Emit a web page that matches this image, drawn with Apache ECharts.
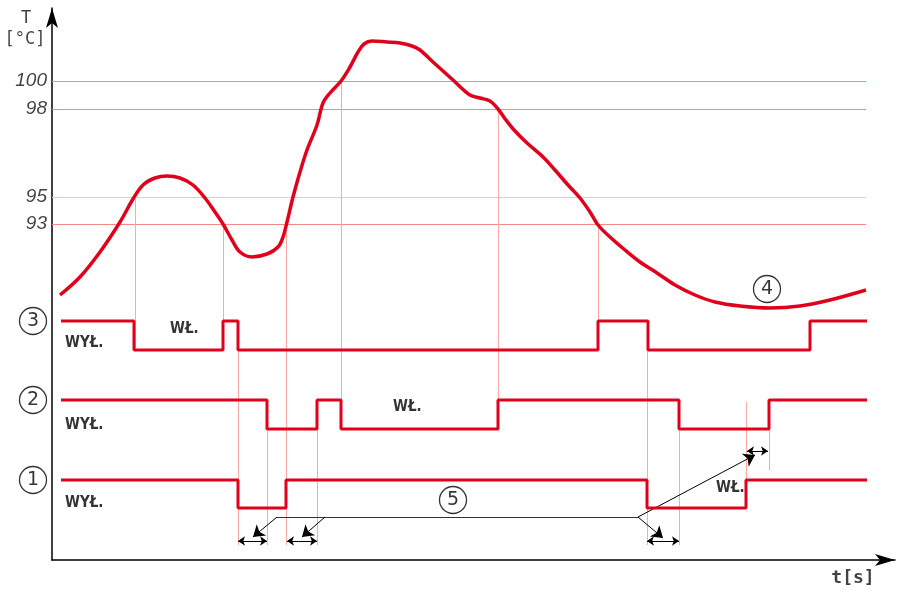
<!DOCTYPE html>
<html><head><meta charset="utf-8">
<script src="https://cdn.jsdelivr.net/npm/echarts@6/dist/echarts.min.js"></script>
<style>html,body{margin:0;padding:0;background:#fff}#c{width:900px;height:593px}</style>
</head><body><div id="c"></div>
<script>
// Temperature curve (time units, vertical level units)
const curve = [[8,265],[28,283],[48,308],[68,338],[81,361],[91,375],[103,382],[115,384],[128,382],[141,375],[153,362],[163,348],[171,336],[180,320],[188,308],[200,303],[215,306],[226,313],[231,323],[235,338],[241,363],[248,388],[255,410],[265,435],[271,457],[278,467],[289,479],[298,493],[306,508],[312,516],[320,519],[335,518],[348,517],[360,514],[368,510],[381,498],[401,480],[418,465],[428,462],[438,459],[446,451],[454,440],[463,429],[475,417],[491,403],[503,390],[516,375],[528,362],[538,348],[546,335],[558,323],[573,310],[588,298],[605,287],[623,275],[643,265],[663,258],[688,254],[718,252],[748,254],[778,260],[814,270]];
// Temperature ticks and the levels they sit at
const tempTicks = [100, 98, 95, 93];
const tempLevels = [479, 451, 363, 336];
// Switching signals (step changes)
const sig3 = [[9,239],[82,210],[171,239],[186,210],[546,239],[596,210],[758,239],[815,239]];
const sig2 = [[9,160],[215,131],[265,160],[289,131],[446,160],[627,131],[717,160],[815,160]];
const sig1 = [[9,80],[186,52],[234,80],[595,52],[694,80],[815,80]];
// Vertical guide lines: [time, fromLevel, toLevel]
const guides = [[83,361,210],[171,336,210],[186,210,15],[215,160,15],[234,338,15],[265,160,15],[289,479,131],[446,451,160],[546,335,239],[595,210,15],[627,160,15],[694,158,80],[717,131,90]];
// Dimension (delay) double arrows: [from, to, level]
const delays = [[186,215,19],[235,265,19],[595,627,19],[695,716,109]];
// Leader lines for note 5
const leaderLine = [[225,43],[586,43]];
const leaderArrows = [[[225,43],[201,23]],[[273,43],[250,23]],[[586,43],[611,22]],[[586,43],[703,105]]];
// Circled markers
const markers = [['3',-19,239],['2',-19,160],['1',-19,80],['4',715,271],['5',401,60]];
// State labels
const stateLabels = [['WYŁ.',13,217],['WYŁ.',13,135],['WYŁ.',13,57],['WŁ.',118,231],['WŁ.',341,153],['WŁ.',664,72]];
// Axis titles
const axisTitles = [['T',-26,541],['[°C]',-27,520],['t[s]',801,-18]];
const gridEnd = 814;

const red = '#e0001b';
const chart = echarts.init(document.getElementById('c'), null, {renderer:'canvas'});

const hLines = tempLevels.map((lv,i)=>({coords:[[0,lv],[gridEnd,lv]], lineStyle:{color: tempTicks[i]===95 ? '#ffc2c2' : '#f28a8a', width:1, opacity:1}}));
const vLines = guides.map(g=>({coords:[[g[0],g[1]],[g[0],g[2]]]}));

const textSeries = (data, label) => ({
  type:'scatter',clip:false,z:6,silent:true,symbol:'circle',symbolSize:1,
  itemStyle:{color:'rgba(0,0,0,0)'},
  data:data,
  label:Object.assign({show:true,position:'inside',color:'#111'},label)
});

const option = {
  animation:false,
  grid:{left:52,right:5,top:8,bottom:33,containLabel:false},
  xAxis:{type:'value',min:0,max:843,
    axisLine:{show:true,onZero:false,symbol:['none','arrow'],symbolSize:[9,20],lineStyle:{color:'#000',width:1.5}},
    axisTick:{show:false},axisLabel:{show:false},splitLine:{show:false}},
  yAxis:{type:'value',min:0,max:552,
    axisLine:{show:true,onZero:false,symbol:['none','arrow'],symbolSize:[9,20],lineStyle:{color:'#000',width:1.5}},
    axisTick:{show:false},axisLabel:{show:false},splitLine:{show:false}},
  series:[
    {type:'lines',coordinateSystem:'cartesian2d',silent:true,z:1,data:hLines,lineStyle:{width:1,opacity:1}},
    {type:'lines',coordinateSystem:'cartesian2d',silent:true,z:1,data:vLines,lineStyle:{color:'#ffa8a8',width:1,opacity:1}},
    {type:'line',data:curve,smooth:0.35,symbol:'none',z:5,lineStyle:{color:red,width:3.5}},
    {type:'line',data:sig3,step:'end',symbol:'none',z:5,lineStyle:{color:red,width:3}},
    {type:'line',data:sig2,step:'end',symbol:'none',z:5,lineStyle:{color:red,width:3}},
    {type:'line',data:sig1,step:'end',symbol:'none',z:5,lineStyle:{color:red,width:3}},
    {type:'lines',coordinateSystem:'cartesian2d',silent:true,z:4,
      data:delays.map(d=>({coords:[[d[0],d[2]],[d[1],d[2]]]})),
      symbol:['arrow','arrow'],symbolSize:7,itemStyle:{color:'#000'},lineStyle:{color:'#000',width:1,opacity:1}},
    {type:'lines',coordinateSystem:'cartesian2d',silent:true,z:4,
      data:[{coords:leaderLine}],lineStyle:{color:'#333',width:1,opacity:1}},
    {type:'lines',coordinateSystem:'cartesian2d',silent:true,z:4,
      data:leaderArrows.map(a=>({coords:a})),
      symbol:['none','arrow'],symbolSize:11,itemStyle:{color:'#000'},lineStyle:{color:'#000',width:1,opacity:1}},
    {type:'scatter',clip:false,z:6,silent:true,
      data:markers.map(m=>({value:[m[1],m[2]],label:{formatter:m[0]}})),
      symbol:'circle',symbolSize:27,
      itemStyle:{color:'#fff',borderColor:'#000',borderWidth:1.3},
      label:{show:true,position:'inside',color:'#000',fontFamily:'DejaVu Sans',fontSize:19}},
    textSeries(stateLabels.map(s=>({value:[s[1],s[2]],label:{formatter:s[0]}})),
      {align:'left',fontFamily:"'DejaVu Sans Condensed', 'DejaVu Sans', sans-serif",fontWeight:'bold',fontSize:15,color:'#000'}),
    textSeries(tempLevels.map((lv,i)=>({value:[-5,lv],label:{formatter:String(tempTicks[i])}})),
      {align:'right',fontFamily:'Liberation Sans',fontStyle:'italic',fontSize:19}),
    textSeries(axisTitles.map((a,i)=>({value:[a[1],a[2]],label:i===2?{formatter:a[0],fontSize:18,fontWeight:'bold'}:{formatter:a[0]}})),
      {fontFamily:'DejaVu Sans Mono',fontWeight:'normal',fontSize:17})
  ]
};
chart.setOption(option);
</script></body></html>
